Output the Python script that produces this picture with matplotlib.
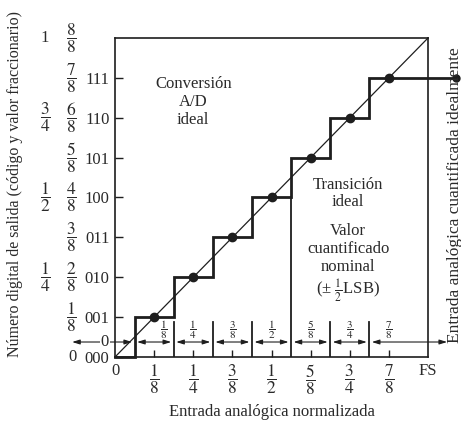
import matplotlib
matplotlib.use("Agg")
import matplotlib.pyplot as plt

plt.rcParams['font.family'] = ['Liberation Serif', 'DejaVu Serif']
plt.rcParams['mathtext.fontset'] = 'stix'

# DATA
CODES = ['000', '001', '010', '011', '100', '101', '110', '111']
LEVELS = [0, 1, 2, 3, 4, 5, 6, 7]
FRAC8 = ['0', '1', '2', '3', '4', '5', '6', '7', '8']
QUARTER_LEVELS = [2, 4, 6, 8]
QUARTER_LABELS = [r'$\dfrac{1}{4}$', r'$\dfrac{1}{2}$', r'$\dfrac{3}{4}$', '1']
TRANSITIONS = [1/16, 3/16, 5/16, 7/16, 9/16, 11/16, 13/16]
CENTERS = [1/8, 2/8, 3/8, 4/8, 5/8, 6/8, 7/8]
CENTER_LABELS = ['1', '1', '3', '1', '5', '3', '7']
CENTER_DEN = ['8', '4', '8', '2', '8', '4', '8']
FULL_SCALE = 1.0
N_CODES = 8

INK = '#1e1e1e'
TXT = '#2a2a2a'
FS_MAIN = 12
FS_FRAC = 12.5

fig = plt.figure(figsize=(4.61, 4.24), dpi=100)
ax = fig.add_axes([115/461, 67/424, 313/461, 319/424])
ax.set_xlim(0, FULL_SCALE)
ax.set_ylim(0, N_CODES)
for s in ax.spines.values():
    s.set_color(INK)
    s.set_linewidth(1.2)

# ideal diagonal
ax.plot([0, FULL_SCALE], [0, N_CODES], color=INK, lw=0.9, clip_on=False)

# staircase
xs = [0]
ys = [LEVELS[0]]
for t, lv in zip(TRANSITIONS, LEVELS[1:]):
    xs += [t, t]
    ys += [ys[-1], lv]
xs.append(1.096)
ys.append(LEVELS[-1])
ax.plot(xs, ys, color=INK, lw=2.0, clip_on=False, solid_joinstyle='miter')

# dots at the code centres
ax.plot(CENTERS, LEVELS[1:], 'o', color=INK, ms=6, clip_on=False)
ax.plot([1.088], [LEVELS[-1]], 'o', color=INK, ms=5, clip_on=False)

# separators of the quantisation bands
sep_top = 0.88
for t in TRANSITIONS[1:]:
    top = LEVELS[TRANSITIONS.index(t)] if t == 9/16 else sep_top
    ax.plot([t, t], [0, top], color=INK, lw=1.3)

# zero error row with arrows
y_arr = 0.376
arrow_kw = dict(arrowstyle='<|-|>,head_length=0.45,head_width=0.14', color=INK,
                lw=0.8, shrinkA=0, shrinkB=0)
edges = [-0.137] + TRANSITIONS + [1.061]
for a, b in zip(edges[:-1], edges[1:]):
    ga = 0.008 if a > 0 else 0
    gb = 0.008 if b < 1 else 0
    ax.annotate('', xy=(a + ga, y_arr), xytext=(b - gb, y_arr),
                arrowprops=arrow_kw, annotation_clip=False)
ax.text(-0.032, y_arr, '0', ha='center', va='center', fontsize=FS_MAIN, color=TXT,
        bbox=dict(facecolor='white', edgecolor='none', pad=0.5), zorder=5)

# small labels above arrows
for i, (c, n, d) in enumerate(zip(CENTERS, CENTER_LABELS, CENTER_DEN)):
    cx = c + 0.03 if i == 0 else c
    ax.text(cx, 0.68, r'$\dfrac{%s}{%s}$' % (n, d), ha='center', va='center',
            fontsize=8, color=TXT)

# axis ticks
ax.set_yticks(LEVELS)
ax.set_yticklabels(CODES)
ax.set_xticks(CENTERS)
ax.set_xticklabels([])
ax.tick_params(axis='y', direction='in', length=6, width=1.0, color=INK,
               labelsize=FS_MAIN, labelcolor=TXT, pad=4)
ax.tick_params(axis='x', direction='in', length=5, width=1.0, color=INK)

# left fraction columns
for k in range(1, N_CODES + 1):
    ax.text(-0.141, k, r'$\dfrac{%s}{8}$' % FRAC8[k], ha='center', va='center',
            fontsize=FS_FRAC, color=TXT)
ax.text(-0.137, 0, '0', ha='center', va='center', fontsize=FS_MAIN, color=TXT)
for lv, lab in zip(QUARTER_LEVELS, QUARTER_LABELS):
    ax.text(-0.224, lv, lab, ha='center', va='center',
            fontsize=FS_FRAC if lab != '1' else FS_MAIN, color=TXT)

# bottom labels
ax.text(0, -0.35, '0', ha='center', va='center', fontsize=FS_MAIN, color=TXT)
ax.text(FULL_SCALE, -0.35, 'FS', ha='center', va='center', fontsize=FS_MAIN, color=TXT)
for c, n, d in zip(CENTERS, CENTER_LABELS, CENTER_DEN):
    ax.text(c, -0.57, r'$\dfrac{%s}{%s}$' % (n, d), ha='center', va='center',
            fontsize=FS_FRAC, color=TXT)

# annotations inside
ax.text(0.25, 6.39, 'Conversión\nA/D\nideal', ha='center', va='center',
        fontsize=FS_MAIN, color=TXT, linespacing=1.15)
ax.text(0.745, 4.1, 'Transición\nideal', ha='center', va='center',
        fontsize=FS_MAIN, color=TXT, linespacing=1.15)
ax.text(0.745, 2.35, 'Valor\ncuantificado\nnominal\n' + r'(± $\frac{1}{2}$LSB)',
        ha='center', va='center', fontsize=FS_MAIN, color=TXT, linespacing=1.15)

fig.text(272/461, 1 - 412/424, 'Entrada analógica normalizada', ha='center', va='center',
         fontsize=FS_MAIN, color=TXT)
fig.text(15/461, 1 - 184/424, 'Número digital de salida (código y valor fraccionario)',
         rotation=90, ha='center', va='center', fontsize=11.5, color=TXT)
fig.text(455/461, 1 - 195/424, 'Entrada analógica cuantificada idealmente',
         rotation=90, ha='center', va='center', fontsize=12.5, color=TXT)

fig.savefig('out.png', dpi=100, facecolor='white')
